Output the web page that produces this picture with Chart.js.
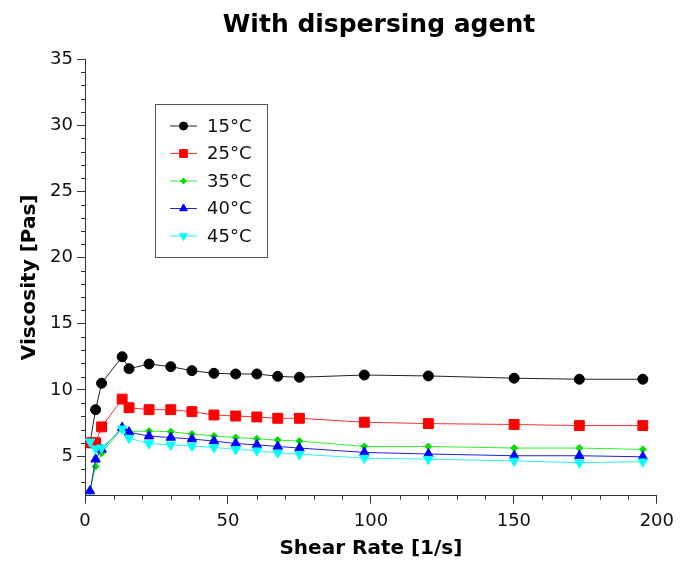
<!DOCTYPE html>
<html>
<head>
<meta charset="utf-8">
<script src="https://cdn.jsdelivr.net/npm/chart.js@4"></script>
<style>
  html, body { margin: 0; padding: 0; background: #fff; }
  #wrap { width: 681px; height: 572px; }
</style>
</head>
<body>
<div id="wrap"><canvas id="chart" width="681" height="572"></canvas></div>
<script>
const shearRate = [1.75, 3.7, 5.8, 13.0, 15.4, 22.4, 30.0, 37.4, 45.1, 52.7, 60.1, 67.4, 75.0, 97.7, 120.1, 150.1, 172.9, 195.1];
const visc15 = [6.0, 8.5, 10.5, 12.5, 11.6, 11.95, 11.75, 11.45, 11.25, 11.2, 11.2, 11.02, 10.95, 11.12, 11.05, 10.88, 10.8, 10.8];
const visc25 = [6.0, 6.0, 7.2, 9.3, 8.65, 8.5, 8.5, 8.35, 8.1, 8.02, 7.95, 7.85, 7.85, 7.55, 7.45, 7.38, 7.3, 7.3];
const visc35 = [2.35, 4.2, 5.2, 7.1, 6.85, 6.88, 6.84, 6.66, 6.52, 6.4, 6.3, 6.2, 6.13, 5.72, 5.72, 5.6, 5.6, 5.5];
const visc40 = [2.35, 4.75, 5.5, 7.15, 6.8, 6.5, 6.4, 6.28, 6.13, 5.94, 5.84, 5.72, 5.6, 5.27, 5.15, 5.02, 5.02, 4.94];
const visc45 = [6.08, 5.55, 5.62, 7.06, 6.35, 5.94, 5.84, 5.76, 5.64, 5.5, 5.4, 5.24, 5.14, 4.84, 4.76, 4.63, 4.5, 4.57];
const seriesLabels = ['15°C', '25°C', '35°C', '40°C', '45°C'];
const xTicks = [0, 50, 100, 150, 200];
const yTicks = [5, 10, 15, 20, 25, 30, 35];
const chartTitle = 'With dispersing agent';

const FONT = "'DejaVu Sans', Verdana, sans-serif";
const AXIS = '#333';

function pts(ys) {
  return ys.map((y, i) => ({ x: shearRate[i], y }));
}

const styles = [
  { line: '#222222', fill: '#000000', shape: 'circle', r: 5, rot: 0 },
  { line: '#ff3030', fill: '#ff0000', shape: 'rect', r: 7, rot: 0 },
  { line: '#33ee33', fill: '#00dd00', shape: 'rectRot', r: 3.5, rot: 0 },
  { line: '#2020e0', fill: '#0000ff', shape: 'triangle', r: 5.5, rot: 0 },
  { line: '#30eeee', fill: '#00ffff', shape: 'triangle', r: 5.5, rot: 180 }
];
const allData = [visc15, visc25, visc35, visc40, visc45];

const datasets = allData.map((d, i) => ({
  label: seriesLabels[i],
  data: pts(d),
  borderColor: styles[i].line,
  borderWidth: 1,
  backgroundColor: styles[i].fill,
  pointBackgroundColor: styles[i].fill,
  pointBorderColor: styles[i].fill,
  pointBorderWidth: 1,
  pointStyle: styles[i].shape,
  pointRadius: styles[i].r,
  pointRotation: styles[i].rot,
  tension: 0,
  order: 4 - i
}));

// title drawn a little right of the canvas centre, like the original
const plotTitle = {
  id: 'plotTitle',
  afterDraw(chart) {
    const { ctx } = chart;
    ctx.save();
    ctx.font = 'bold 25px ' + FONT;
    ctx.fillStyle = '#000';
    ctx.textAlign = 'center';
    ctx.textBaseline = 'middle';
    ctx.fillText(chartTitle, 379, 25);
    ctx.restore();
  }
};

// minor ticks (1 unit on y, 10 units on x)
const minorTicks = {
  id: 'minorTicks',
  afterDraw(chart) {
    const { ctx, scales: { x, y }, chartArea } = chart;
    ctx.save();
    ctx.strokeStyle = AXIS;
    ctx.lineWidth = 1;
    ctx.beginPath();
    for (let v = 3; v <= 34; v++) {
      if (v % 5 === 0) continue;
      const py = Math.round(y.getPixelForValue(v)) + 0.5;
      ctx.moveTo(chartArea.left - 4, py);
      ctx.lineTo(chartArea.left, py);
    }
    for (let v = 10; v < 200; v += 10) {
      if (v % 50 === 0) continue;
      const px = Math.round(x.getPixelForValue(v)) + 0.5;
      ctx.moveTo(px, chartArea.bottom);
      ctx.lineTo(px, chartArea.bottom + 4);
    }
    ctx.stroke();
    ctx.restore();
  }
};

// boxed legend inside the plot
const boxLegend = {
  id: 'boxLegend',
  afterDraw(chart) {
    const { ctx } = chart;
    const bx = 155.5, by = 104.5, bw = 112, bh = 153;
    ctx.save();
    ctx.fillStyle = '#fff';
    ctx.fillRect(bx, by, bw, bh);
    ctx.strokeStyle = '#555';
    ctx.lineWidth = 1;
    ctx.strokeRect(bx, by, bw, bh);
    ctx.font = '18px ' + FONT;
    ctx.textBaseline = 'middle';
    chart.data.datasets.forEach((ds, i) => {
      const yy = 126 + i * 27.5;
      ctx.strokeStyle = ds.borderColor;
      ctx.lineWidth = 1;
      ctx.beginPath();
      ctx.moveTo(170, yy);
      ctx.lineTo(197, yy);
      ctx.stroke();
      ctx.fillStyle = ds.pointBackgroundColor;
      ctx.strokeStyle = ds.pointBorderColor;
      const r = ds.pointStyle === 'rect' ? 5.5 : ds.pointStyle === 'circle' ? 4 : ds.pointStyle === 'rectRot' ? 3 : 4.5;
      Chart.helpers.drawPoint(ctx, { pointStyle: ds.pointStyle, rotation: ds.pointRotation, radius: r, borderWidth: 1 }, 183.5, yy);
      ctx.fillStyle = '#111';
      ctx.fillText(ds.label, 207, yy + 1);
    });
    ctx.restore();
  }
};

new Chart(document.getElementById('chart'), {
  type: 'line',
  data: { datasets },
  options: {
    responsive: false,
    animation: false,
    layout: { padding: { top: 59, right: 24, bottom: 0, left: 0 } },
    plugins: {
      legend: { display: false },
      tooltip: { enabled: false },
      title: { display: false }
    },
    scales: {
      x: {
        type: 'linear',
        min: 0,
        max: 200,
        afterBuildTicks: s => { s.ticks = xTicks.map(v => ({ value: v })); },
        afterFit: s => { s.height = 76.3; },
        grid: { display: true, drawOnChartArea: false, drawTicks: true, tickLength: 8, tickColor: AXIS },
        border: { display: true, color: AXIS, width: 1 },
        ticks: { color: '#111', font: { family: FONT, size: 18 }, padding: 7, maxRotation: 0 },
        title: {
          display: true,
          text: 'Shear Rate [1/s]',
          color: '#000',
          font: { family: FONT, size: 20, weight: 'bold' },
          padding: { top: 0, bottom: 11 }
        }
      },
      y: {
        type: 'linear',
        min: 2,
        max: 35,
        afterBuildTicks: s => { s.ticks = yTicks.map(v => ({ value: v })); },
        afterFit: s => { s.width = 85; },
        grid: { display: true, drawOnChartArea: false, drawTicks: true, tickLength: 8, tickColor: AXIS },
        border: { display: true, color: AXIS, width: 1 },
        ticks: { color: '#111', font: { family: FONT, size: 18 }, padding: 4 },
        title: {
          display: true,
          text: 'Viscosity [Pas]',
          color: '#000',
          font: { family: FONT, size: 20, weight: 'bold' },
          padding: { top: 18, bottom: 0 }
        }
      }
    }
  },
  plugins: [plotTitle, minorTicks, boxLegend]
});
</script>
</body>
</html>
